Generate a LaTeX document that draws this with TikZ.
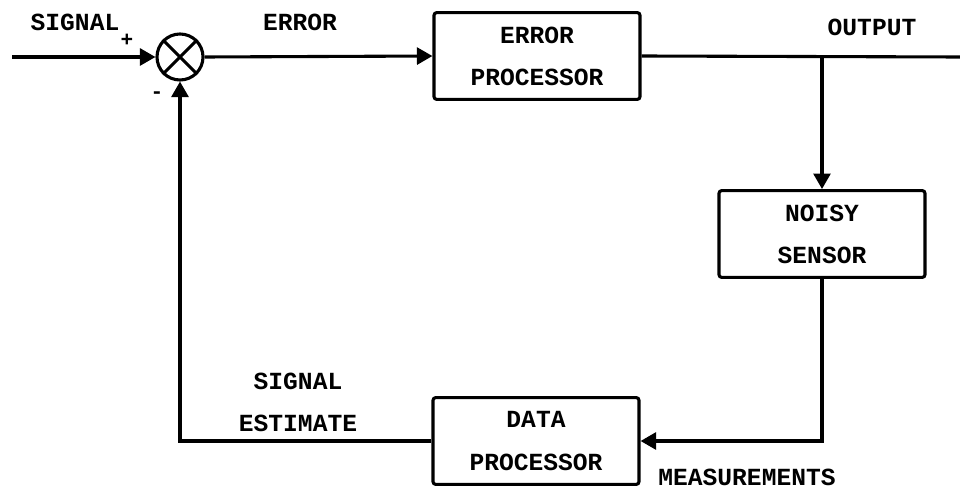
\documentclass[tikz,border=0pt]{standalone}
\usepackage{fontspec}
\setmonofont{Liberation Mono}
\usepackage{tikz}
\usetikzlibrary{arrows.meta}
\tikzset{
    tnode/.style = {align=center, inner sep=0pt, text centered, font=\ttfamily\bfseries\fontsize{17.5}{30}\selectfont},
    block_node/.style = {tnode, rectangle, draw=black, rounded corners=2pt, line width=2.2pt, minimum width=5.15cm, minimum height=2.17cm},
    sum_node/.style = {tnode, circle, draw=black, line width=2.2pt, minimum size=1.15cm},
    label_text/.style = {tnode},
    sign_text/.style = {tnode, font=\ttfamily\bfseries\fontsize{15}{15}\selectfont}
}

\begin{document}
\begin{tikzpicture}
            [-,>={Triangle[length=11pt, width=12pt]},
            x=0.025cm, y=-0.025cm, line width=2.2pt]

            \useasboundingbox (0,0) rectangle (960,492);

            \node [sum_node] (sum) at (180,57) {};
            \draw (sum.north west) -- (sum.south east)
                  (sum.north east) -- (sum.south west);
            \node [block_node] (err_proc) at (537,56) {ERROR\\PROCESSOR};
            \node [block_node] (sensor) at (822,234) {NOISY\\SENSOR};
            \node [block_node] (data_proc) at (536,441) {DATA\\PROCESSOR};

            \coordinate (in_pt) at (12,57);
            \coordinate (out_pt) at (960,57);
            \coordinate (branch) at (822,57);

            \node [label_text] (signal_lbl) at (75,22) {SIGNAL};
            \node [sign_text] (plus_lbl) at (127,40) {+};
            \node [sign_text] (minus_lbl) at (157,95) {-};
            \node [label_text] (error_lbl) at (300,22) {ERROR};
            \node [label_text] (output_lbl) at (872,27) {OUTPUT};
            \node [label_text] (estimate_lbl) at (298,402) {SIGNAL\\ESTIMATE};
            \node [label_text] (meas_lbl) at (747,477) {MEASUREMENTS};

            \draw [->] (in_pt) -- (sum.west);
            \draw [->] (sum.east) -- (err_proc.west);
            \draw (err_proc.east) -- (out_pt);
            \draw [->] (branch) -- (sensor.north);
            \draw [->] (sensor.south) |- (data_proc.east);
            \draw [->] (data_proc.west) -| (sum.south);
        \end{tikzpicture}
\end{document}
